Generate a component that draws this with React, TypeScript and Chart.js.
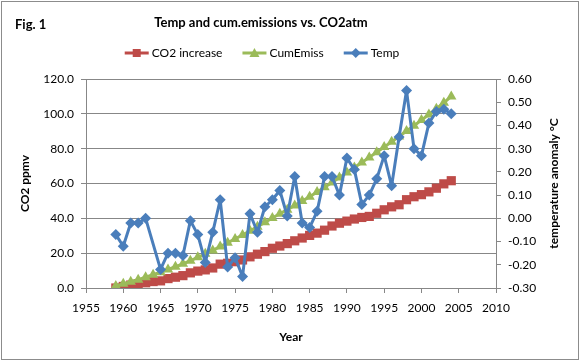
import React, { useEffect, useRef } from "react";
import { Chart, registerables } from "chart.js";

Chart.register(...registerables);

// ---- data ----
const years = [
  1959, 1960, 1961, 1962, 1963, 1964, 1965, 1966, 1967, 1968,
  1969, 1970, 1971, 1972, 1973, 1974, 1975, 1976, 1977, 1978,
  1979, 1980, 1981, 1982, 1983, 1984, 1985, 1986, 1987, 1988,
  1989, 1990, 1991, 1992, 1993, 1994, 1995, 1996, 1997, 1998,
  1999, 2000, 2001, 2002, 2003, 2004,
];

const co2Increase = [
  0.0, 0.9, 1.7, 2.5, 3.0, 3.7, 4.1, 5.4, 6.2, 7.1,
  8.7, 9.7, 10.4, 11.5, 13.7, 14.2, 15.1, 16.1, 17.9, 19.4,
  20.9, 22.8, 24.1, 25.5, 27.1, 28.7, 30.2, 31.5, 33.2, 35.6,
  37.2, 38.4, 39.6, 40.5, 41.1, 42.9, 44.9, 46.6, 47.8, 50.7,
  52.4, 53.6, 55.2, 57.3, 59.8, 61.6,
];

const cumEmiss = [
  1.2, 2.4, 3.6, 4.8, 6.2, 7.6, 9.1, 10.6, 12.2, 13.9,
  15.7, 17.6, 19.6, 21.6, 23.8, 26.0, 28.2, 30.4, 32.8, 35.2,
  37.7, 40.2, 42.6, 45.0, 47.4, 49.9, 52.4, 55.1, 57.8, 60.6,
  63.4, 66.3, 69.2, 72.1, 75.0, 77.9, 80.9, 83.9, 87.0, 90.1,
  93.2, 96.4, 99.6, 102.9, 106.3, 110.0,
];

const temp: (number | null)[] = [
  -0.07, -0.12, -0.02, -0.02, 0.0, null, -0.22, -0.15, -0.15, -0.16,
  -0.01, -0.07, -0.19, -0.06, 0.08, -0.21, -0.17, -0.25, 0.02, -0.06,
  0.05, 0.08, 0.12, 0.01, 0.18, -0.02, -0.04, 0.03, 0.18, 0.18,
  0.1, 0.26, 0.21, 0.06, 0.1, 0.17, 0.27, 0.14, 0.35, 0.55,
  0.3, 0.27, 0.41, 0.46, 0.47, 0.45,
];

const seriesNames = ["CO2 increase", "CumEmiss", "Temp"];
const figLabel = "Fig. 1";
const chartTitle = "Temp and cum.emissions vs. CO2atm";
const xTitle = "Year";
const yTitle = "CO2 ppmv";
const y2Title = "temperature anomaly °C";

const RED = "#BE4B48";
const GREEN = "#9BBB59";
const BLUE = "#4A7EBB";
const GRID = "#878787";
const FONT = "Lato, 'Liberation Sans', sans-serif";

function drawMarker(ctx: CanvasRenderingContext2D, kind: string, x: number, y: number, color: string) {
  ctx.save();
  ctx.fillStyle = color;
  ctx.beginPath();
  if (kind === "rect") {
    ctx.rect(x - 4, y - 4, 8, 8);
  } else if (kind === "triangle") {
    ctx.moveTo(x, y - 5);
    ctx.lineTo(x + 5, y + 4);
    ctx.lineTo(x - 5, y + 4);
    ctx.closePath();
  } else {
    ctx.moveTo(x, y - 5);
    ctx.lineTo(x + 5, y);
    ctx.lineTo(x, y + 5);
    ctx.lineTo(x - 5, y);
    ctx.closePath();
  }
  ctx.fill();
  ctx.restore();
}

const decorPlugin = {
  id: "decor",
  beforeDraw(chart: any) {
    const ctx = chart.ctx as CanvasRenderingContext2D;
    ctx.save();
    ctx.fillStyle = "#ffffff";
    ctx.fillRect(0, 0, chart.width, chart.height);
    ctx.restore();
  },
  afterDraw(chart: any) {
    const ctx = chart.ctx as CanvasRenderingContext2D;
    const area = chart.chartArea;
    ctx.save();
    // outer border
    ctx.strokeStyle = "#8c8c8c";
    ctx.lineWidth = 1;
    ctx.strokeRect(1.5, 1.5, 577, 358);

    ctx.fillStyle = "#000";
    ctx.textBaseline = "alphabetic";
    // Fig label
    ctx.font = `bold 13px ${FONT}`;
    ctx.textAlign = "left";
    ctx.fillText(figLabel, 15, 29);
    // title
    ctx.textAlign = "center";
    ctx.fillText(chartTitle, 261, 27);

    // legend
    ctx.font = `12px ${FONT}`;
    ctx.textAlign = "left";
    ctx.textBaseline = "middle";
    const colors = [RED, GREEN, BLUE];
    const kinds = ["rect", "triangle", "diamond"];
    const lineLen = 24;
    const gapAfterLine = 3;
    const gapBetween = 20;
    const widths = seriesNames.map((n) => lineLen + gapAfterLine + ctx.measureText(n).width);
    const total = widths.reduce((a, b) => a + b, 0) + gapBetween * (seriesNames.length - 1);
    let lx = 262 - total / 2;
    const ly = 53;
    seriesNames.forEach((name, i) => {
      ctx.strokeStyle = colors[i];
      ctx.lineWidth = 3;
      ctx.beginPath();
      ctx.moveTo(lx, ly);
      ctx.lineTo(lx + lineLen, ly);
      ctx.stroke();
      drawMarker(ctx, kinds[i], lx + lineLen / 2, ly, colors[i]);
      ctx.fillStyle = "#000";
      ctx.fillText(name, lx + lineLen + gapAfterLine, ly + 0.5);
      lx += widths[i] + gapBetween;
    });

    // axis titles
    ctx.font = `bold 12px ${FONT}`;
    ctx.textAlign = "center";
    ctx.textBaseline = "alphabetic";
    ctx.fillText(xTitle, (area.left + area.right) / 2, 341);

    const cy = (area.top + area.bottom) / 2;
    ctx.textBaseline = "middle";
    ctx.save();
    ctx.translate(25, cy);
    ctx.rotate(-Math.PI / 2);
    ctx.fillText(yTitle, 0, 0);
    ctx.restore();

    ctx.save();
    ctx.translate(554, cy);
    ctx.rotate(-Math.PI / 2);
    ctx.fillText(y2Title, 0, 0);
    ctx.restore();

    ctx.restore();
  },
};

export default function App() {
  const canvasRef = useRef<HTMLCanvasElement | null>(null);

  useEffect(() => {
    const canvas = canvasRef.current;
    if (!canvas) return;
    const toPts = (vals: (number | null)[]) => years.map((yr, i) => ({ x: yr, y: vals[i] }));

    const chart = new Chart(canvas, {
      type: "line",
      data: {
        datasets: [
          {
            label: seriesNames[0],
            data: toPts(co2Increase) as any,
            borderColor: RED,
            backgroundColor: RED,
            borderWidth: 3,
            pointStyle: "rect",
            pointRadius: 6.5,
            pointBorderWidth: 0,
            yAxisID: "y",
            order: 3,
          },
          {
            label: seriesNames[1],
            data: toPts(cumEmiss) as any,
            borderColor: GREEN,
            backgroundColor: GREEN,
            borderWidth: 3,
            pointStyle: "triangle",
            pointRadius: 6,
            pointBorderWidth: 0,
            yAxisID: "y",
            order: 2,
          },
          {
            label: seriesNames[2],
            data: toPts(temp) as any,
            borderColor: BLUE,
            backgroundColor: BLUE,
            borderWidth: 3,
            borderJoinStyle: "round",
            pointStyle: "rectRot",
            pointRadius: 5.5,
            pointBorderWidth: 0,
            spanGaps: true,
            yAxisID: "y2",
            order: 1,
          },
        ],
      },
      options: {
        responsive: false,
        animation: false,
        events: [],
        layout: { padding: { top: 79, left: 0, right: 0, bottom: 0 } },
        plugins: {
          legend: { display: false },
          title: { display: false },
          tooltip: { enabled: false },
        },
        scales: {
          x: {
            type: "linear",
            min: 1955,
            max: 2010,
            afterFit: (s: any) => {
              s.height = 74;
            },
            ticks: {
              stepSize: 5,
              color: "#000",
              font: { family: FONT, size: 12 },
              padding: 8,
              maxRotation: 0,
              callback: (v: any) => String(v),
            },
            grid: { drawOnChartArea: false, drawTicks: true, tickLength: 5, color: GRID },
            border: { display: true, color: GRID },
          },
          y: {
            type: "linear",
            position: "left",
            min: 0,
            max: 120,
            afterFit: (s: any) => {
              s.width = 86;
            },
            ticks: {
              stepSize: 20,
              color: "#000",
              font: { family: FONT, size: 12 },
              padding: 7,
              callback: (v: any) => Number(v).toFixed(1),
            },
            grid: { color: GRID, drawTicks: true, tickLength: 5 },
            border: { display: true, color: GRID },
          },
          y2: {
            type: "linear",
            position: "right",
            min: -0.3,
            max: 0.6,
            afterFit: (s: any) => {
              s.width = 85;
            },
            ticks: {
              stepSize: 0.1,
              color: "#000",
              font: { family: FONT, size: 12 },
              padding: 7,
              callback: (v: any) => Number(v).toFixed(2),
            },
            grid: { drawOnChartArea: false, drawTicks: true, tickLength: 5, color: GRID },
            border: { display: true, color: GRID },
          },
        },
      },
      plugins: [decorPlugin],
    } as any);

    return () => {
      chart.destroy();
    };
  }, []);

  return (
    <div style={{ position: "fixed", left: 0, top: 0, width: 581, height: 362, background: "#fff" }}>
      <canvas ref={canvasRef} width={581} height={362} style={{ display: "block", width: 581, height: 362 }} />
    </div>
  );
}
